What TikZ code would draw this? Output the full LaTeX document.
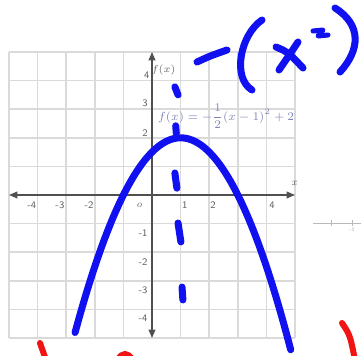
\documentclass[tikz,border=0pt]{standalone}
\usepackage{amsmath}
\usepackage{tikz}
\usetikzlibrary{arrows.meta}
\usepackage{xcolor}
\definecolor{gridgray}{HTML}{DADADA}
\definecolor{axisgray}{HTML}{505050}
\definecolor{labelgray}{HTML}{606060}
\definecolor{formulablue}{HTML}{7F83B8}
\definecolor{penblue}{HTML}{1010F0}
\definecolor{penred}{HTML}{F01414}

\begin{document}
\begin{tikzpicture}[x=0.6cm,y=0.6cm]
  % Styles local to this figure.
  \tikzset{
    gridline/.style={gridgray,line width=0.9pt},
    axis/.style={axisgray,line width=0.9pt,{Triangle[length=5pt,width=4pt]}-{Triangle[length=5pt,width=4pt]}},
    ticklabel/.style={text=labelgray,font=\sffamily\fontsize{6}{7}\selectfont,inner sep=0pt},
    pen/.style={penblue,line width=4.2pt,line cap=round,line join=round},
    redpen/.style={penred,line width=3.6pt,line cap=round}
  }
  \useasboundingbox (-5.315,-5.629) rectangle (7.308,6.818);

  % Grid and axes.
  \draw[gridline,step=1] (-5,-5) grid (5,5);
  \coordinate (xmin) at (-5,0);
  \coordinate (xmax) at (5,0);
  \coordinate (ymin) at (0,-5);
  \coordinate (ymax) at (0,5);
  \draw[axis] (xmin) -- (xmax);
  \draw[axis] (ymin) -- (ymax);

  % Tick labels.
  \foreach \v/\px in {-4/-4.2,-3/-3.22,-2/-2.2,1/1.15,2/2.13,4/4.2} {\node[ticklabel] (xl\v) at (\px,-0.35) {\v};}
  \foreach \v/\px/\py in {4/-0.18/4.2,3/-0.24/3.22,2/-0.24/2.17,-1/-0.31/-1.33,-2/-0.31/-2.34,-3/-0.31/-3.32,-4/-0.31/-4.30} {\node[ticklabel] (yl\v) at (\px,\py) {\v};}
  \node[ticklabel,font=\fontsize{6}{7}\selectfont\itshape] (orig) at (-0.45,-0.35) {o};
  \node[ticklabel,font=\fontsize{6}{7}\selectfont\itshape] (xname) at (4.97,0.42) {x};
  \node[ticklabel,font=\fontsize{6}{7}\selectfont] (fname) at (0.4,4.37) {$f(x)$};

  % Printed equation.
  \node[text=formulablue,font=\fontsize{7.4}{9}\selectfont,inner sep=0pt] (eqn) at (2.59,2.75) {$f(x)=-\dfrac{1}{2}(x-1)^2+2$};

  % Hand-drawn parabola and axis of symmetry.
  \draw[pen] plot[domain=-2.69:4.85,samples=60,smooth] (\x,{-0.5*(\x-1)^2+2});
  \draw[pen] (0.80,3.78) -- (0.91,3.50);
  \draw[pen] (0.83,2.42) -- (0.85,2.15);
  \draw[pen] (0.80,0.77) -- (0.87,0.24);
  \draw[pen] (0.91,-0.98) -- (1.01,-1.64);
  \draw[pen] (1.05,-3.22) -- (1.08,-3.67);

  % Handwriting, in pixel units.
  \begin{scope}[shift={(-5.315,6.818)},x=0.02098cm,y=-0.02098cm]
    \draw[pen] (197,62) .. controls (210,56) .. (227,50);
    \draw[pen] (262,20) .. controls (240,35) and (232,78) .. (252,90);
    \draw[pen] (276,47) .. controls (288,52) .. (303,68);
    \draw[pen] (298,42) .. controls (290,54) .. (279,70);
    \draw[pen,line width=3pt] (313,31) -- (323,30) -- (318,36) -- (328,35);
    \draw[pen] (335,8) .. controls (362,25) and (360,50) .. (340,72);
    \draw[redpen] (40,343) -- (46,360);
    \draw[redpen] (118,360) .. controls (121,352) and (129,352) .. (132,360);
    \draw[redpen] (342,323) .. controls (350,335) .. (355,360);
    % Fragment of a number line.
    \draw[gray!55,line width=0.6pt] (313,223) -- (361,223);
    \draw[gray!55,line width=0.6pt] (331,220) -- (331,226);
    \draw[gray!55,line width=0.6pt] (352,220) -- (352,226);
    \node[text=gray!70,font=\fontsize{3}{4}\selectfont,inner sep=0pt] (nl5) at (352,230) {-5};
  \end{scope}
\end{tikzpicture}
\end{document}
